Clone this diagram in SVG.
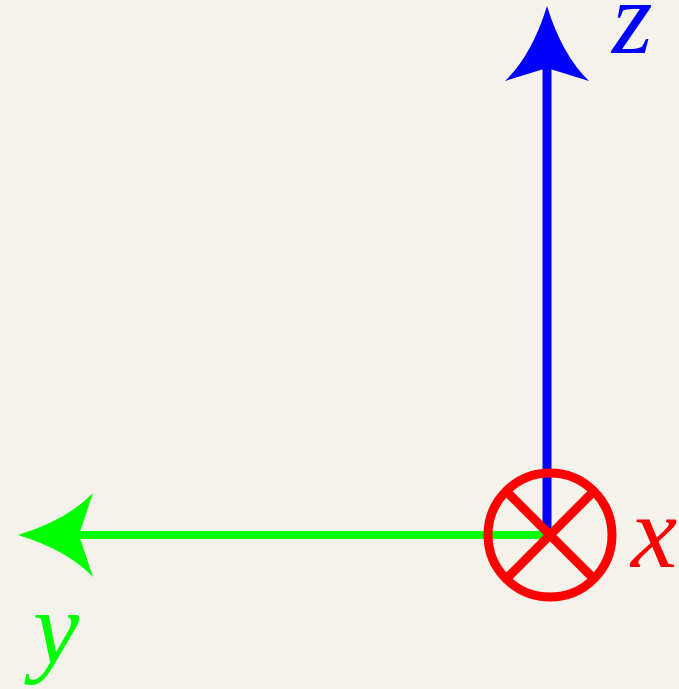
<svg xmlns="http://www.w3.org/2000/svg" width="679" height="689" viewBox="0 0 679 689">
<style>
.lbl{font-family:"Liberation Serif","Times New Roman",serif;font-style:italic;font-size:104px}
</style>
<rect width="679" height="689" fill="#f5f2eb"/>
<g id="connectors">
<line x1="547" y1="66" x2="547" y2="536" stroke="#0000ff" stroke-width="9"/>
<path d="M547,6 Q532,55 505,81 L547,68 L589,81 Q562,55 547,6 Z" fill="#0000ff"/>
<line x1="77" y1="535" x2="549" y2="535" stroke="#00ff00" stroke-width="8"/>
<path d="M18,535 Q67,520 93,493 L79,535 L93,577 Q67,550 18,535 Z" fill="#00ff00"/>
</g>
<g id="x-axis">
<circle cx="550" cy="535" r="62" fill="none" stroke="#ff0000" stroke-width="9"/>
<line x1="506" y1="491" x2="594" y2="579" stroke="#ff0000" stroke-width="9"/>
<line x1="594" y1="491" x2="506" y2="579" stroke="#ff0000" stroke-width="9"/>
</g>
<g id="labels">
<text class="lbl" x="612" y="53" fill="#0000ff">z</text>
<text class="lbl" x="631" y="567" fill="#ff0000">x</text>
<text class="lbl" x="33" y="663" fill="#00ff00">y</text>
</g>
</svg>
